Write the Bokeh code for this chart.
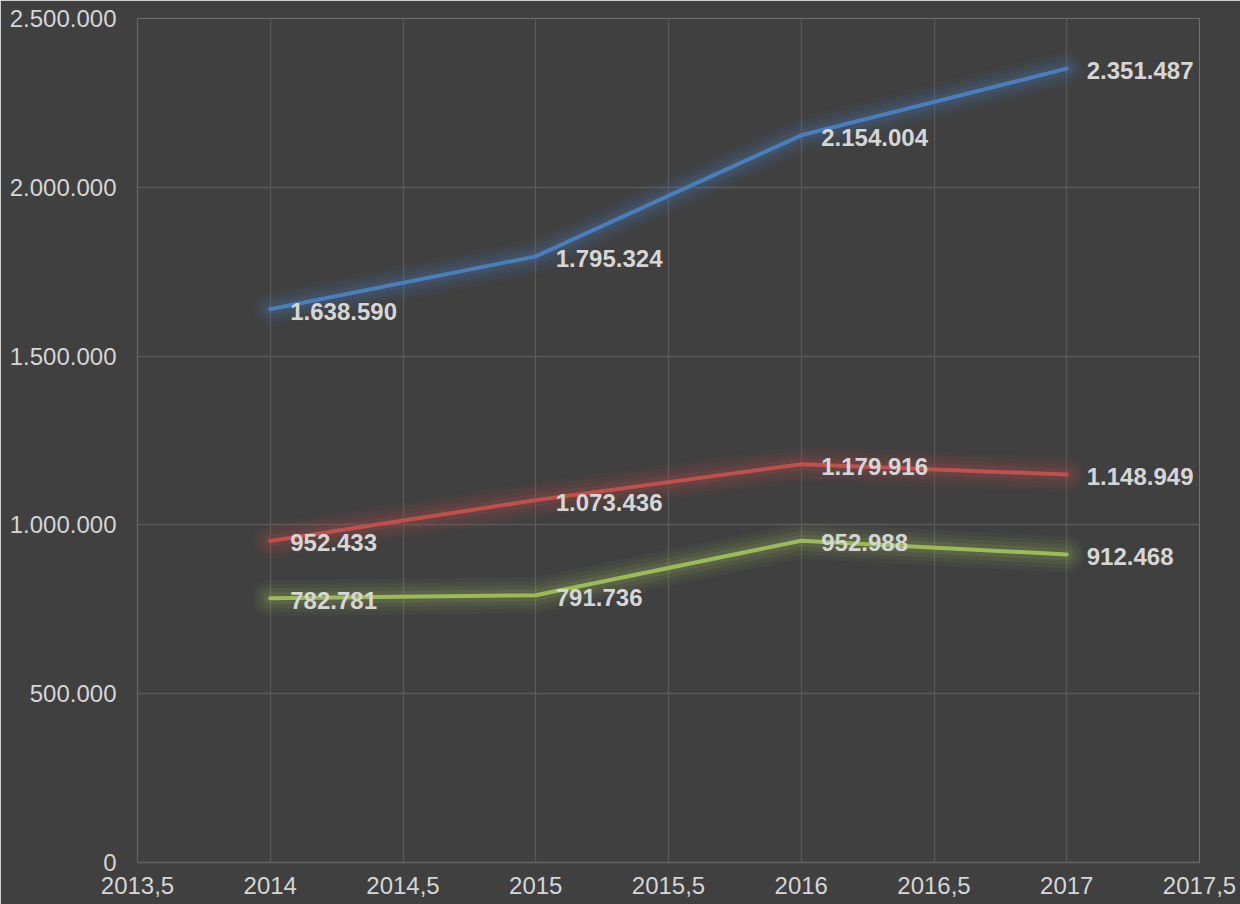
from bokeh.plotting import figure
from bokeh.models import ColumnDataSource, CustomJSTickFormatter, FixedTicker, Range1d
from bokeh.core.properties import value
from bokeh.embed import file_html
from bokeh.resources import INLINE

years = [2014, 2015, 2016, 2017]
blue_vals = [1638590, 1795324, 2154004, 2351487]
red_vals = [952433, 1073436, 1179916, 1148949]
green_vals = [782781, 791736, 952988, 912468]
x_ticks = [2013.5, 2014, 2014.5, 2015, 2015.5, 2016, 2016.5, 2017, 2017.5]
y_ticks = [0, 500000, 1000000, 1500000, 2000000, 2500000]

series = [
    (blue_vals, "#4A7EBB"),
    (red_vals, "#C0504D"),
    (green_vals, "#9BBB59"),
]

BG = "#404040"
GRID = "#595959"
TXT = "#D6D6D6"
FONT = "Liberation Sans"

p = figure(width=1240, height=904, output_backend="svg", toolbar_location=None,
           x_range=Range1d(2013.5, 2017.5), y_range=Range1d(0, 2500000),
           background_fill_color=BG, border_fill_color=BG,
           min_border_left=137, min_border_top=18, min_border_right=41, min_border_bottom=42)
p.outline_line_color = None

p.xgrid.grid_line_color = GRID
p.ygrid.grid_line_color = GRID
p.xgrid.grid_line_width = 1.3
p.ygrid.grid_line_width = 1.3

p.xaxis.ticker = FixedTicker(ticks=x_ticks)
p.yaxis.ticker = FixedTicker(ticks=y_ticks)
p.xaxis.formatter = CustomJSTickFormatter(code="return tick.toString().replace('.', ',');")
p.yaxis.formatter = CustomJSTickFormatter(
    code="return Math.round(tick).toString().replace(/\\B(?=(\\d{3})+(?!\\d))/g, '.');")

for ax in (p.xaxis, p.yaxis):
    ax.axis_line_color = "#636363"
    ax.axis_line_width = 1.3
    ax.major_tick_line_color = None
    ax.minor_tick_line_color = None
    ax.major_tick_out = 0
    ax.major_tick_in = 0
    ax.major_label_text_color = TXT
    ax.major_label_text_font = FONT
    ax.major_label_text_font_size = "24px"
p.xaxis.major_label_standoff = 14
p.yaxis.major_label_standoff = 21

for vals, color in series:
    src = ColumnDataSource(dict(x=years, y=vals))
    for w, a in [(36, 0.05), (28, 0.07), (20, 0.09), (12, 0.13)]:
        p.line("x", "y", source=src, line_color=color, line_width=w, line_alpha=a,
               line_join="round", line_cap="round")
    p.line("x", "y", source=src, line_color=color, line_width=4,
           line_join="round", line_cap="round")

for vals, color in series:
    src = ColumnDataSource(dict(x=years, y=vals,
                                lab=[f"{v:,}".replace(",", ".") for v in vals]))
    p.text("x", "y", text="lab", source=src, x_offset=20, y_offset=2,
           text_align="left", text_baseline="middle", text_color=TXT,
           text_font=value(FONT), text_font_style="bold", text_font_size="24px")

open("out.html", "w").write(file_html(p, INLINE))
